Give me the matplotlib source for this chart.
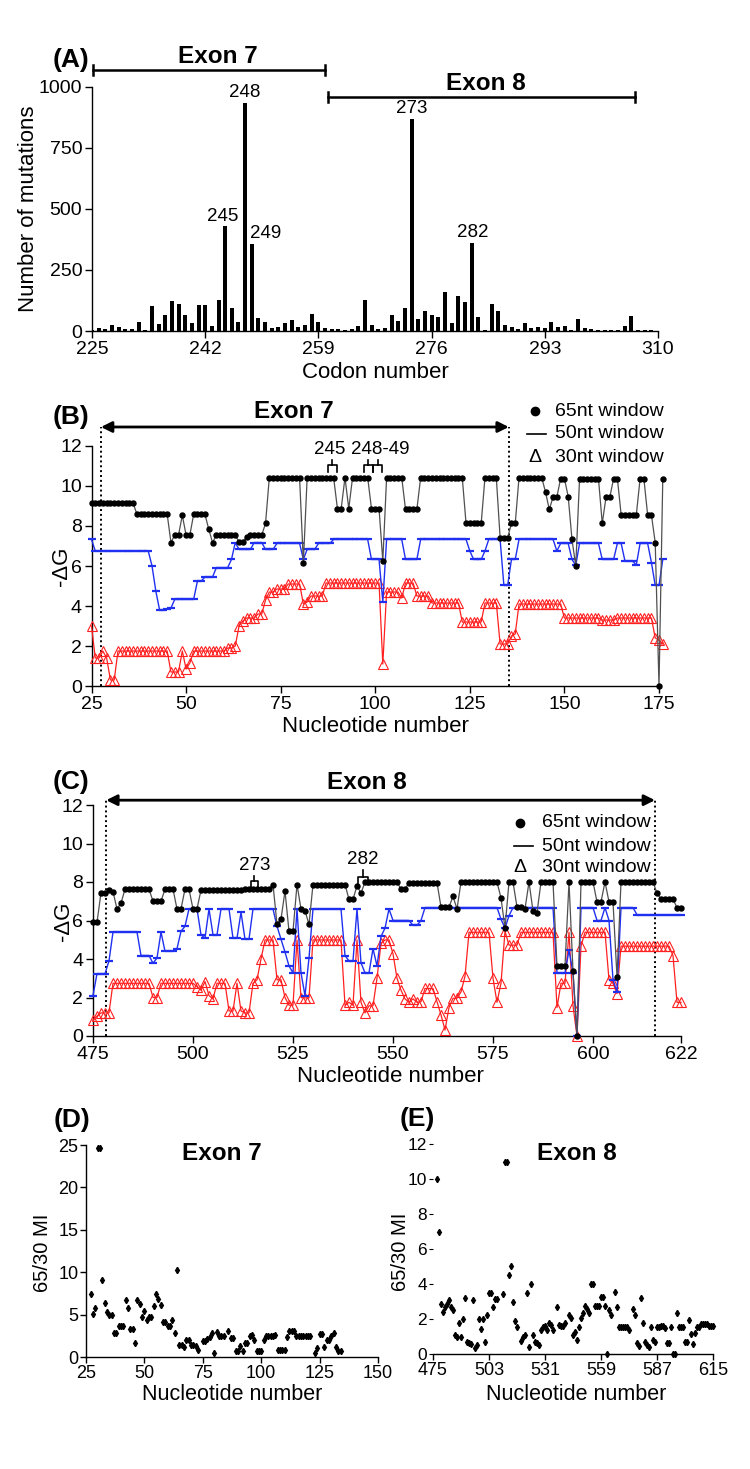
import matplotlib
matplotlib.use("Agg")
import matplotlib.pyplot as plt
import numpy as np

plt.rcParams['font.family'] = ['Liberation Sans', 'DejaVu Sans']

# ---------------- data ----------------
# (A) number of mutations per codon 225..310
codons = list(range(225, 311))
mutations = [5, 12, 10, 25, 15, 8, 7, 35, 5, 101,
             29, 67, 123, 111, 67, 31, 107, 107, 22, 128,
             430, 94, 35, 935, 356, 53, 35, 14, 18, 31,
             46, 15, 26, 70, 38, 12, 7, 10, 5, 7,
             22, 126, 25, 8, 12, 66, 41, 94, 869, 51,
             81, 67, 56, 161, 31, 145, 120, 360, 56, 5,
             111, 82, 25, 18, 8, 34, 12, 18, 14, 38,
             15, 22, 5, 49, 11, 7, 4, 4, 4, 3,
             22, 63, 4, 3, 3, 2]
bar_labels = {245: (244.6, 470), 248: (248.0, 978), 249: (251.0, 398),
              273: (273.0, 910), 282: (282.2, 402)}

# (B) -dG, exon 7 region, nucleotides 25..176
startB = 25
black_B = ([9.13]*12 + [8.6]*9 + [7.17] + [7.55]*2 + [8.53] + [7.55]*2 + [8.58]*4 + [7.83] + [7.17]
           + [7.55]*6 + [7.2]*2 + [7.45] + [7.55]*4 + [8.13] + [10.42]*9 + [6.17] + [10.42]*8
           + [8.87]*2 + [10.42] + [8.87] + [10.42]*5 + [8.87]*3 + [6.25] + [10.42]*5 + [8.83]*4
           + [10.42]*12 + [8.13]*5 + [10.42]*4 + [7.42]*3 + [8.13]*2 + [10.42]*7 + [9.7] + [8.83]
           + [9.45]*2 + [10.37]*2 + [9.47] + [7.33] + [6.0] + [10.37]*6 + [8.13] + [9.45]*2
           + [10.37]*2 + [8.55]*5 + [10.37]*2 + [8.55]*2 + [7.17] + [0.0] + [10.37])
blue_B = ([7.33] + [6.75]*15 + [6.0] + [4.75] + [3.8]*2 + [3.85] + [3.9] + [4.33]*6 + [5.25]*2
          + [5.45]*3 + [5.92]*4 + [6.33] + [7.17] + [6.83]*4 + [7.17]*3 + [6.83]*3 + [7.13]*7
          + [6.33] + [6.83]*3 + [7.13]*4 + [7.33]*10 + [6.33]*3 + [4.2] + [7.33]*5 + [6.33]*4
          + [7.33]*13 + [6.75] + [6.33]*3 + [6.75] + [7.33]*4 + [5.03]*2 + [6.33]*2 + [7.33]*10
          + [6.75] + [7.13]*3 + [6.33] + [6.03] + [7.13]*6 + [6.33]*4 + [7.13]*2 + [6.25]*3
          + [6.05] + [7.13]*3 + [6.17] + [5.03]*2 + [6.33])
red_B = ([3.0] + [1.4]*2 + [1.75] + [1.4] + [0.3]*2 + [1.75]*14 + [0.7]*3 + [1.75] + [0.85] + [1.15]
         + [1.75]*9 + [1.9]*2 + [2.0] + [3.0] + [3.25] + [3.4]*3 + [3.6]*2 + [4.3] + [4.7]*2
         + [4.85]*3 + [5.1]*4 + [4.1] + [4.2] + [4.5]*4 + [5.15]*15 + [1.1] + [4.7]*4 + [4.4]
         + [5.15]*3 + [4.5]*4 + [4.15]*8 + [3.2]*6 + [4.15]*4 + [2.1]*3 + [2.5] + [2.6] + [4.1]*12
         + [3.4]*10 + [3.3]*4 + [3.4]*10 + [2.4] + [2.3] + [2.1])

# (C) -dG, exon 8 region, nucleotides 475..622
startC = 475
black_C = ([5.9]*2 + [7.45]*2 + [7.6] + [7.5] + [6.6] + [6.9] + [7.63]*7 + [7.0]*3 + [7.63]*3
           + [6.6]*2 + [7.63]*2 + [6.6]*2 + [7.58] + [7.6]*10 + [7.63]*7 + [7.87] + [5.8] + [6.07]
           + [7.53] + [5.44]*2 + [7.87] + [6.6] + [6.5] + [5.8] + [7.87]*9 + [7.1]*2 + [7.8] + [7.42]
           + [8.0]*9 + [7.63]*2 + [7.97]*8 + [6.7]*3 + [7.25] + [6.6] + [8.0]*10 + [7.17] + [5.6]
           + [8.0]*2 + [6.7]*2 + [6.6] + [8.0] + [6.5] + [6.4] + [8.0]*4 + [3.64]*3 + [8.0] + [3.37]
           + [0.0] + [8.0]*4 + [6.97]*2 + [8.0] + [6.97]*2 + [3.06] + [8.0]*9 + [7.42] + [7.1]*4
           + [6.67]*2)
blue_C = ([2.1] + [3.24]*3 + [3.9] + [5.4]*7 + [4.18]*3 + [3.78] + [4.05] + [5.4] + [4.4]*3 + [4.54]
          + [5.44] + [5.7] + [6.6]*3 + [5.26] + [5.08] + [6.6] + [5.26]*2 + [6.6]*3 + [5.08]*2 + [6.43]
          + [5.03]*2 + [6.6]*6 + [5.7] + [5.03] + [4.36] + [3.64] + [3.28] + [6.6] + [3.28] + [2.1]
          + [4.05] + [6.6]*8 + [4.18] + [3.9]*2 + [6.6] + [3.8] + [3.28]*2 + [4.54] + [3.64] + [5.17]
          + [5.6] + [6.6] + [6.0]*5 + [5.75]*2 + [6.0] + [6.67]*19 + [6.07] + [5.6] + [6.25]
          + [6.67]*11 + [3.28]*3 + [4.45] + [3.28] + [0.0] + [6.67]*4 + [6.0]*2 + [6.67] + [6.0]
          + [2.92] + [2.3] + [6.67]*4 + [6.3]*12)
red_C = ([0.81] + [1.03] + [1.2]*3 + [2.74]*10 + [2.0]*2 + [2.74]*9 + [2.56] + [2.38] + [2.83] + [2.1]
         + [1.93] + [2.74]*3 + [1.3]*2 + [2.74] + [1.3] + [1.2]*2 + [2.74] + [2.92] + [4.0] + [4.99]*3
         + [2.92]*2 + [2.0] + [1.6]*2 + [4.99] + [2.0] + [1.98]*2 + [4.99]*8 + [1.6] + [1.75] + [1.6]
         + [4.99] + [1.75] + [1.2] + [1.57]*2 + [3.0] + [4.81] + [4.99]*2 + [4.27] + [3.0] + [2.38]
         + [1.93] + [1.75] + [1.93] + [1.75] + [1.78] + [2.47]*3 + [1.78] + [1.1] + [0.31] + [1.48]
         + [1.96]*2 + [2.29] + [3.1] + [5.39]*6 + [3.0] + [1.75] + [2.74] + [5.44] + [4.72]*3
         + [5.39]*9 + [1.48] + [2.74]*2 + [5.39] + [1.57] + [0.0] + [4.67] + [5.39]*6 + [2.92]
         + [2.74] + [2.2] + [4.67]*13 + [4.18] + [1.75]*2)

# (D) 65/30 MI, exon 7
D_nt = [27, 28, 29, 30, 31, 32, 33, 34, 35, 36, 37, 38, 39, 40, 41, 42, 43, 44, 45, 46,
        47, 48, 49, 50, 51, 52, 53, 54, 55, 56, 57, 58, 59, 60, 61, 62, 63, 64, 65, 66,
        67, 68, 69, 70, 71, 72, 73, 75, 76, 77, 78, 79, 80, 81, 82, 83, 84, 86, 87, 88,
        89, 90, 91, 92, 93, 94, 95, 96, 97, 98, 99, 100, 101, 102, 103, 104, 105, 106, 107, 108,
        109, 110, 111, 112, 113, 114, 115, 116, 117, 118, 119, 120, 121, 123, 124, 125, 126, 127, 128, 129,
        130, 131, 132, 133, 134]
D_mi = [7.4, 5.04, 5.83, 24.6, 24.6, 9.06, 6.42, 5.31, 5.0, 5.0, 2.83, 2.83, 3.66, 3.66, 3.66, 6.69, 5.83, 3.27, 3.27, 1.65,
        6.69, 6.3, 4.72, 5.4, 4.33, 4.72, 4.72, 5.98, 7.48, 6.85, 6.18, 4.13, 4.13, 3.66, 3.66, 4.33, 2.87, 10.3, 1.38, 1.38,
        1.18, 2.05, 2.05, 1.46, 1.46, 1.26, 0.79, 1.89, 1.89, 2.17, 2.36, 2.87, 0.51, 2.95, 2.48, 2.48, 2.48, 3.03, 2.24, 2.24,
        0.67, 0.67, 1.34, 0.67, 1.69, 1.69, 2.48, 2.64, 2.05, 0.67, 0.67, 0.67, 1.97, 2.44, 2.44, 2.44, 2.44, 2.64, 0.79, 0.79,
        0.79, 0.79, 2.36, 3.03, 3.03, 3.03, 2.48, 2.48, 2.48, 2.48, 2.48, 2.48, 2.48, 0.51, 1.06, 2.68, 2.68, 1.18, 2.05, 2.05,
        2.44, 2.87, 1.18, 0.67, 0.67]

# (E) 65/30 MI, exon 8
E_nt = [477, 478, 479, 480, 481, 482, 483, 484, 485, 486, 487, 488, 489, 490, 491, 492, 493, 494, 495, 496,
        497, 498, 499, 500, 501, 502, 503, 504, 505, 506, 507, 510, 511, 512, 513, 514, 515, 516, 517, 519,
        520, 521, 522, 523, 524, 525, 526, 527, 528, 529, 530, 531, 532, 533, 534, 535, 537, 538, 539, 540,
        541, 543, 544, 545, 546, 547, 548, 549, 550, 551, 552, 553, 554, 555, 556, 557, 558, 559, 560, 561,
        562, 563, 564, 566, 567, 568, 569, 570, 571, 572, 573, 575, 576, 577, 578, 579, 580, 581, 582, 583,
        584, 585, 586, 587, 588, 589, 590, 591, 592, 593, 594, 595, 596, 597, 598, 599, 600, 601, 602, 603,
        604, 605, 606, 607, 608, 609, 610, 611, 612, 613, 614, 615]
E_mi = [9.98, 6.99, 2.86, 2.42, 2.67, 2.86, 3.09, 2.67, 2.51, 1.09, 0.99, 1.75, 0.99, 1.98, 3.22, 0.7, 0.65, 0.55, 3.09, 0.32,
        0.51, 1.98, 1.41, 1.98, 0.7, 2.23, 3.47, 3.47, 2.67, 3.14, 3.14, 3.43, 10.99, 10.99, 4.51, 5.03, 2.95, 1.9, 1.56, 0.76,
        0.95, 1.09, 3.5, 0.42, 4.0, 1.09, 0.7, 0.61, 0.51, 1.37, 1.56, 1.6, 1.37, 1.75, 1.66, 1.37, 2.67, 1.66, 1.6, 1.6,
        1.75, 2.23, 2.04, 1.09, 1.28, 0.8, 1.52, 2.04, 2.32, 2.74, 2.55, 2.36, 3.98, 3.98, 2.74, 2.74, 2.74, 3.28, 3.28, 2.74,
        0.0, 2.51, 2.23, 3.56, 2.7, 1.52, 1.52, 1.52, 1.52, 1.52, 1.37, 2.55, 2.23, 0.61, 0.46, 3.18, 1.75, 0.7, 0.51, 0.42,
        1.52, 0.8, 0.7, 1.52, 1.52, 1.6, 1.6, 1.47, 0.61, 0.61, 1.52, 0.0, 0.0, 2.32, 1.52, 1.52, 1.52, 0.67, 0.67, 1.94,
        1.14, 0.55, 1.18, 1.52, 1.52, 1.71, 1.71, 1.71, 1.71, 1.6, 1.6, 1.6]

# ---------------- figure ----------------
W, H = 750, 1469
fig = plt.figure(figsize=(W / 100, H / 100), dpi=100)
fig.patch.set_facecolor('white')

TICK = 14
LAB = 16
BOLD = 17.5
PANEL = 19


def add_ax(l, r, t, b):
    return fig.add_axes([l / W, 1 - b / H, (r - l) / W, (b - t) / H])


def ftext(x, y, s, **kw):
    fig.text(x / W, 1 - y / H, s, **kw)


def style(ax, size=TICK, length=5, pad=2):
    for s in ['top', 'right']:
        ax.spines[s].set_visible(False)
    for s in ['left', 'bottom']:
        ax.spines[s].set_linewidth(1.0)
    ax.tick_params(direction='out', length=length, width=1, labelsize=size, pad=pad)
    ax.set_facecolor('none')


def bracket(ax, x0, x1, ybase, ytop, ytick):
    xm = (x0 + x1) / 2
    ax.plot([x0, x0, x1, x1], [ybase, ytop, ytop, ybase], color='k', lw=1.2, clip_on=False, zorder=6)
    ax.plot([xm, xm], [ytop, ytick], color='k', lw=1.2, clip_on=False, zorder=6)


# ---- (A) ----
axA = add_ax(92, 658, 87, 331)
style(axA)
axA.bar(codons, mutations, width=0.6, color='k')
axA.set_xlim(225, 310)
axA.set_ylim(0, 1000)
axA.set_xticks([225, 242, 259, 276, 293, 310])
axA.set_yticks([0, 250, 500, 750, 1000])
for c, (lx, ly) in bar_labels.items():
    axA.text(lx, ly, str(c), ha='center', va='center', fontsize=13.5)
for x0, x1, yb, lx, ly, name in [(225.2, 260.0, 1070, 243.9, 1123, 'Exon 7'),
                                 (260.5, 306.5, 959, 284.1, 1016, 'Exon 8')]:
    axA.plot([x0, x1], [yb, yb], color='k', lw=1.8, clip_on=False)
    axA.plot([x0, x0], [yb - 20, yb + 20], color='k', lw=1.8, clip_on=False)
    axA.plot([x1, x1], [yb - 20, yb + 20], color='k', lw=1.8, clip_on=False)
    axA.text(lx, ly, name, ha='center', va='center', fontsize=BOLD, fontweight='bold')
ftext(28, 209, 'Number of mutations', rotation=90, ha='center', va='center', fontsize=LAB)
ftext(375, 372, 'Codon number', ha='center', va='center', fontsize=LAB)
ftext(89, 60, '(A)', ha='right', va='center', fontsize=PANEL, fontweight='bold')


def window_panel(ax, start, black, blue, red):
    nb = np.arange(start, start + len(black))
    nu = np.arange(start, start + len(blue))
    nr = np.arange(start, start + len(red))
    ax.plot(nr, red, color='#ff2020', lw=0.9, marker='^', ms=6.5, mfc='none', mec='#ff2020',
            mew=0.8, clip_on=False, zorder=3)
    ax.plot(nu, blue, color='#2030f0', lw=1.0, marker='_', ms=6, mew=1.6, clip_on=False, zorder=4)
    ax.plot(nb, black, color='#505050', lw=0.9, marker='o', ms=3.6, mfc='k', mec='k',
            clip_on=False, zorder=5)
    ax.set_ylim(0, 12)
    ax.set_yticks([0, 2, 4, 6, 8, 10, 12])


def exon_arrow(ax, x0, x1, y, label, ly, lx):
    ax.plot([x0, x0], [0, y], color='k', ls=(0, (1, 1.5)), lw=1.4, clip_on=False)
    ax.plot([x1, x1], [0, y], color='k', ls=(0, (1, 1.5)), lw=1.4, clip_on=False)
    ax.annotate('', xy=(x0, y), xytext=(x1, y), xycoords='data',
                arrowprops=dict(arrowstyle='<|-|>', color='k', lw=2, mutation_scale=16,
                                shrinkA=0, shrinkB=0), annotation_clip=False)
    ax.text(lx, ly, label, ha='center', va='center', fontsize=BOLD, fontweight='bold')


def legend(ax, xm, xt, ys, x0, x1):
    ax.plot([xm], [ys[0]], marker='o', ms=6, color='k', clip_on=False)
    ax.text(xt, ys[0], '65nt window', ha='left', va='center', fontsize=14)
    ax.plot([x0, x1], [ys[1], ys[1]], color='k', lw=1.2, clip_on=False)
    ax.text(xt, ys[1], '50nt window', ha='left', va='center', fontsize=14)
    ax.text(xm, ys[2], 'Δ', ha='center', va='center', fontsize=14)
    ax.text(xt, ys[2], '30nt window', ha='left', va='center', fontsize=14)


# ---- (B) ----
axB = add_ax(91.5, 659, 446, 686)
style(axB)
window_panel(axB, startB, black_B, blue_B, red_B)
axB.set_xlim(25, 175)
axB.set_xticks([25, 50, 75, 100, 125, 150, 175])
exon_arrow(axB, 27.5, 135.3, 12.95, 'Exon 7', 13.75, 78.5)
legend(axB, 142.3, 147.4, [13.75, 12.6, 11.45], 140.2, 145.0)
bracket(axB, 87.6, 89.8, 10.7, 11.07, 11.32)
bracket(axB, 97.0, 99.4, 10.7, 11.07, 11.32)
bracket(axB, 99.4, 101.9, 10.7, 11.07, 11.32)
axB.text(88.0, 11.85, '245', ha='center', va='center', fontsize=13.5)
axB.text(101.4, 11.85, '248-49', ha='center', va='center', fontsize=13.5)
ftext(62, 566, '-ΔG', rotation=90, ha='center', va='center', fontsize=LAB)
ftext(375, 727, 'Nucleotide number', ha='center', va='center', fontsize=LAB)
ftext(89, 417, '(B)', ha='right', va='center', fontsize=PANEL, fontweight='bold')

# ---- (C) ----
axC = add_ax(93, 681, 805, 1036)
style(axC)
window_panel(axC, startC, black_C, blue_C, red_C)
axC.set_xlim(475, 622)
axC.set_xticks([475, 500, 525, 550, 575, 600, 622])
exon_arrow(axC, 478.3, 615.5, 12.25, 'Exon 8', 13.15, 543.5)
legend(axC, 581.7, 587.2, [11.07, 9.85, 8.73], 580.3, 585.0)
bracket(axC, 514.4, 516.2, 7.7, 8.03, 8.33)
bracket(axC, 541.3, 543.7, 7.83, 8.28, 8.63)
axC.text(515.4, 8.85, '273', ha='center', va='center', fontsize=13.5)
axC.text(542.4, 9.15, '282', ha='center', va='center', fontsize=13.5)
ftext(63, 921, '-ΔG', rotation=90, ha='center', va='center', fontsize=LAB)
ftext(390, 1077, 'Nucleotide number', ha='center', va='center', fontsize=LAB)
ftext(89, 782, '(C)', ha='right', va='center', fontsize=PANEL, fontweight='bold')

# ---- (D) ----
axD = add_ax(86, 378, 1145, 1357)
style(axD, 13, length=4, pad=1.5)
axD.plot(D_nt, D_mi, ls='none', marker='d', ms=3.2, color='k', clip_on=False)
axD.set_xlim(25, 150)
axD.set_ylim(0, 25)
axD.set_xticks([25, 50, 75, 100, 125, 150])
axD.set_yticks([0, 5, 10, 15, 20, 25])
axD.text(83, 24.0, 'Exon 7', ha='center', va='center', fontsize=BOLD, fontweight='bold')
ftext(43, 1253, '65/30 MI', rotation=90, ha='center', va='center', fontsize=14.5)
ftext(232, 1395, 'Nucleotide number', ha='center', va='center', fontsize=15.5)
ftext(72, 1120, '(D)', ha='center', va='center', fontsize=PANEL, fontweight='bold')

# ---- (E) ----
axE = add_ax(433, 713, 1144, 1354)
style(axE, 13, length=4, pad=1.5)
axE.spines['left'].set_visible(False)
axE.plot(E_nt, E_mi, ls='none', marker='d', ms=3.2, color='k', clip_on=False)
axE.set_xlim(475, 615)
axE.set_ylim(0, 12)
axE.set_xticks([475, 503, 531, 559, 587, 615])
axE.set_yticks([0, 2, 4, 6, 8, 10, 12])
axE.tick_params(axis='y', length=3, width=0.8, labelsize=12.5)
axE.text(546.7, 11.47, 'Exon 8', ha='center', va='center', fontsize=BOLD, fontweight='bold')
ftext(401, 1252, '65/30 MI', rotation=90, ha='center', va='center', fontsize=14.5)
ftext(576, 1395, 'Nucleotide number', ha='center', va='center', fontsize=15.5)
ftext(417, 1119, '(E)', ha='center', va='center', fontsize=PANEL, fontweight='bold')

fig.savefig('out.png', dpi=100, facecolor='white')
